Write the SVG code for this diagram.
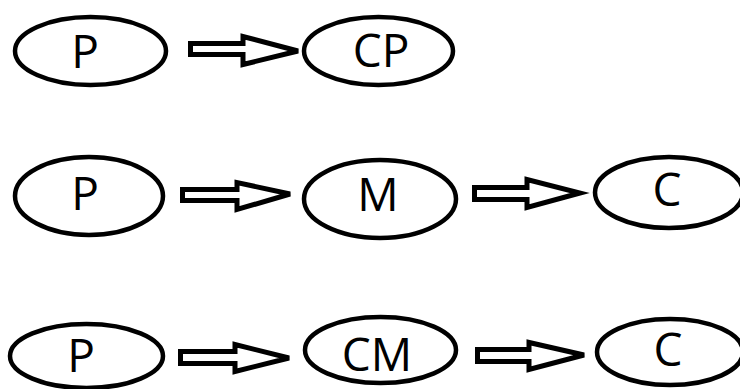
<svg xmlns="http://www.w3.org/2000/svg" width="740" height="389" viewBox="0 0 740 389">
<style>
.n ellipse{fill:#fff;stroke:#000;stroke-width:4.5}
.n text{font-family:"Open Sans","Noto Sans","Liberation Sans",sans-serif;font-size:46px;fill:#000;text-anchor:middle}
.c path{fill:#fff;stroke:#000;stroke-width:5;stroke-linejoin:miter}
</style>
<rect width="740" height="389" fill="#fff"/>
<g id="connectors" class="c">
<path d="M190.5,43.5 L243,43.5 L243,36.5 L298,51 L243,64.5 L243,54.5 L190.5,54.5 Z"/>
<path d="M182.5,189.5 L237,189.5 L237,182.5 L290,194 L237,209.5 L237,200.5 L182.5,200.5 Z"/>
<path d="M474.5,187.5 L527,187.5 L527,179.5 L580,193 L527,207.5 L527,199.5 L474.5,199.5 Z"/>
<path d="M180.5,351.5 L235,351.5 L235,344.5 L289,358 L235,371.5 L235,363.5 L180.5,363.5 Z"/>
<path d="M477.5,349.5 L529,349.5 L529,342.5 L584,355 L529,369.5 L529,361.5 L477.5,361.5 Z"/>
</g>
<g id="n1-P" class="n"><ellipse cx="90.5" cy="51" rx="75.5" ry="34"/><text x="85" y="68">P</text></g>
<g id="n1-CP" class="n"><ellipse cx="378.5" cy="51" rx="74.5" ry="34"/><text x="381" y="67">CP</text></g>
<g id="n2-P" class="n"><ellipse cx="89" cy="196" rx="74" ry="39"/><text x="85" y="210">P</text></g>
<g id="n2-M" class="n"><ellipse cx="380" cy="199" rx="76" ry="39"/><text x="378" y="211">M</text></g>
<g id="n2-C" class="n"><ellipse cx="669" cy="192.5" rx="74" ry="35.5"/><text x="667" y="206">C</text></g>
<g id="n3-P" class="n"><ellipse cx="86.5" cy="356" rx="76.5" ry="32"/><text x="81" y="372">P</text></g>
<g id="n3-CM" class="n"><ellipse cx="380.5" cy="350" rx="75.5" ry="33"/><text x="377" y="371">CM</text></g>
<g id="n3-C" class="n"><ellipse cx="670" cy="352" rx="73" ry="33"/><text x="668" y="366">C</text></g>
</svg>
